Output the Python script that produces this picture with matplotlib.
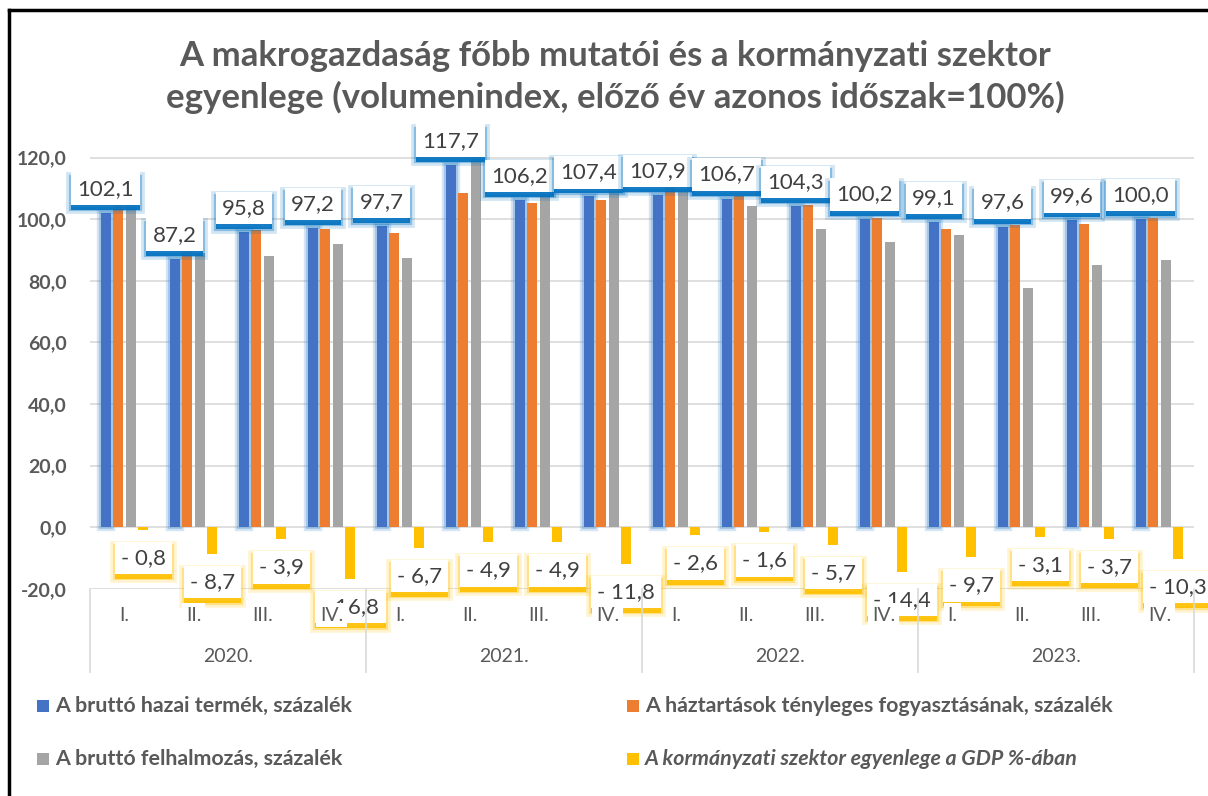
import matplotlib.pyplot as plt
import matplotlib.patheffects as pe
from matplotlib.lines import Line2D
from matplotlib.patches import Rectangle
import numpy as np

plt.rcParams['font.family'] = ['Lato', 'DejaVu Sans']

# data
years = ['2020.', '2021.', '2022.', '2023.']
quarters = ['I.', 'II.', 'III.', 'IV.']
gdp = [102.1, 87.2, 95.8, 97.2, 97.7, 117.7, 106.2, 107.4,
       107.9, 106.7, 104.3, 100.2, 99.1, 97.6, 99.6, 100.0]
household = [104.5, 92.6, 96.5, 96.8, 95.4, 108.4, 105.2, 106.2,
             110.7, 107.5, 104.5, 100.5, 96.8, 98.0, 98.4, 100.3]
capital = [106.5, 89.0, 88.0, 91.9, 87.3, 124.7, 116.9, 117.5,
           109.5, 104.2, 96.8, 92.6, 94.8, 77.7, 85.1, 86.7]
balance = [-0.8, -8.7, -3.9, -16.8, -6.7, -4.9, -4.9, -11.8,
           -2.6, -1.6, -5.7, -14.4, -9.7, -3.1, -3.7, -10.3]
series_names = ['A bruttó hazai termék, százalék',
                'A háztartások tényleges fogyasztásának, százalék',
                'A bruttó felhalmozás, százalék',
                'A kormányzati szektor egyenlege a GDP %-ában']
colors = ['#4472C4', '#ED7D31', '#A5A5A5', '#FFC000']
title = ('A makrogazdaság főbb mutatói és a kormányzati szektor\n'
         'egyenlege (volumenindex, előző év azonos időszak=100%)')

TXT = '#595959'
fig = plt.figure(figsize=(12.08, 7.96), dpi=100)
ax = fig.add_axes([90 / 1208, 1 - 589 / 796, 1104 / 1208, 453 / 796])

n = len(gdp)
x = np.arange(n)
step, width = 0.182, 0.145
glow = [pe.Stroke(linewidth=6, foreground='#5B9BD5', alpha=0.25),
        pe.Stroke(linewidth=3, foreground='#5B9BD5', alpha=0.4),
        pe.Normal()]
for i, vals in enumerate([gdp, household, capital, balance]):
    bars = ax.bar(x + (i - 1.5) * step, vals, width, color=colors[i], zorder=2)
    if i == 0:
        for b in bars:
            b.set_path_effects(glow)

ax.set_xlim(-0.5, n - 0.5)
ax.set_ylim(-20, 127)
ax.set_yticks(range(-20, 121, 20))
ax.set_yticklabels([f'{v:.1f}'.replace('.', ',') for v in range(-20, 121, 20)],
                   fontsize=14, fontweight='bold', color=TXT)
ax.tick_params(axis='y', length=0, pad=17)
ax.set_xticks([])
ax.grid(axis='y', color='#D9D9D9', linewidth=1.2)
ax.set_axisbelow(True)
for s in ax.spines.values():
    s.set_visible(False)


def data_label(xv, yv, text, dy, shade):
    # white box with a coloured glow underneath
    t = ax.annotate(text, (xv, yv), xytext=(0, dy), textcoords='offset points',
                    ha='center', va='center', fontsize=16, color='#404040', zorder=5,
                    bbox=dict(boxstyle='square,pad=0.28', fc='white', ec='none'),
                    annotation_clip=False)
    t.get_bbox_patch().set_path_effects([
        pe.Stroke(offset=(0, -3), linewidth=7, foreground=shade, alpha=0.18),
        pe.Stroke(offset=(0, -3), linewidth=3, foreground=shade, alpha=0.35),
        pe.SimplePatchShadow(offset=(0, -3.5), shadow_rgbFace=shade, alpha=0.9),
        pe.Normal()])


for i in range(n):
    data_label(x[i] - 1.5 * step, gdp[i], f'{gdp[i]:.1f}'.replace('.', ','), 17.3, '#0070C0')
    data_label(x[i] + 1.5 * step, balance[i],
               '- ' + f'{abs(balance[i]):.1f}'.replace('.', ','), -20.2, '#FFC000')

# two-level category axis
tr = ax.get_xaxis_transform()
for i in range(n):
    ax.text(x[i], -0.0574, quarters[i % 4], transform=tr, ha='center', va='center',
            fontsize=14, color=TXT, zorder=6, clip_on=False,
            bbox=dict(boxstyle='square,pad=0.2', fc='white', ec='none'))
for k, yr in enumerate(years):
    ax.text(4 * k + 1.5, -0.150, yr, transform=tr, ha='center', va='center',
            fontsize=14, color=TXT, clip_on=False)
for k in range(len(years) + 1):
    ax.plot([4 * k - 0.5, 4 * k - 0.5], [0, -0.183], transform=tr, color='#D9D9D9',
            linewidth=1.2, clip_on=False, zorder=7)

fig.text(0.509, 1 - 77 / 796, title, ha='center', va='center', fontsize=25,
         fontweight='bold', color=TXT, linespacing=1.3)

# legend
leg_pos = [(37, 706), (627, 706), (37, 759), (627, 759)]
for i in range(4):
    px, py = leg_pos[i]
    fig.patches.append(Rectangle((px / 1208, 1 - (py + 6) / 796), 12 / 1208, 12 / 796,
                                 transform=fig.transFigure, fc=colors[i], ec='none'))
    fig.text((px + 18) / 1208, 1 - py / 796, series_names[i], ha='left', va='center',
             fontsize=15.4, fontweight='bold', color=TXT,
             style='italic' if i == 3 else 'normal')

# outer frame (left and top edges)
fig.lines.append(Line2D([9 / 1208, 9 / 1208], [0, 1 - 10 / 796], transform=fig.transFigure,
                        color='black', linewidth=2.5))
fig.lines.append(Line2D([9 / 1208, 1], [1 - 10 / 796, 1 - 10 / 796], transform=fig.transFigure,
                        color='black', linewidth=2.5))

fig.savefig('out.png', dpi=100)
